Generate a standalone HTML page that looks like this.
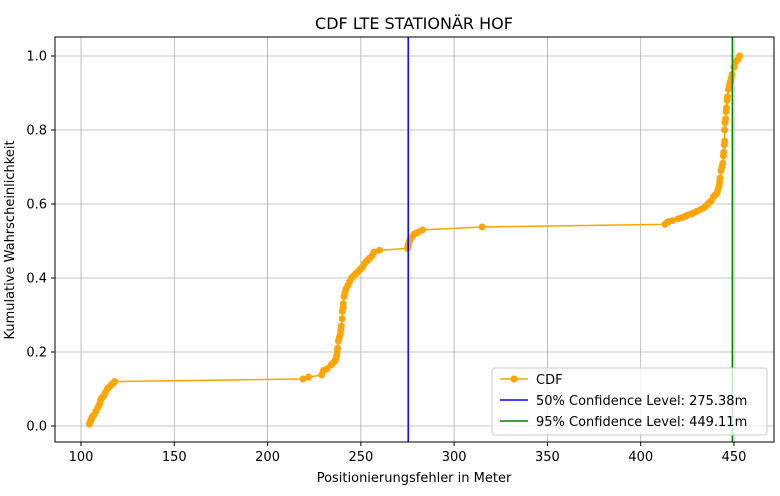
<!DOCTYPE html>
<html><head><meta charset="utf-8"><style>
body{margin:0;background:#fff;}
svg text{font-family:"DejaVu Sans","Liberation Sans",sans-serif;fill:#000;}
</style></head><body>
<svg id="chart" width="780" height="491" xmlns="http://www.w3.org/2000/svg">
<g id="grid"></g>
<g id="marks"></g>
<rect x="55" y="37" width="719" height="405" fill="none" stroke="#000" stroke-width="1"/>
<g id="ticks"></g>
<text x="414" y="29" font-size="16" text-anchor="middle">CDF LTE STATIONÄR HOF</text>
<text x="414" y="482" font-size="13" text-anchor="middle">Positionierungsfehler in Meter</text>
<text transform="translate(14,240) rotate(-90)" font-size="13" text-anchor="middle">Kumulative Wahrscheinlichkeit</text>
<g>
<rect x="492" y="368" width="275" height="67" rx="3" fill="#fff" fill-opacity="0.8" stroke="#ccc"/>
<line x1="500" y1="379" x2="528" y2="379" stroke="orange" stroke-width="1.5"/><circle cx="514" cy="379" r="3.5" fill="orange"/>
<text x="536" y="384" font-size="13">CDF</text>
<line x1="500" y1="400" x2="528" y2="400" stroke="blue" stroke-width="1.5"/>
<text x="536" y="405" font-size="13">50% Confidence Level: 275.38m</text>
<line x1="500" y1="421" x2="528" y2="421" stroke="green" stroke-width="1.5"/>
<text x="536" y="426" font-size="13">95% Confidence Level: 449.11m</text>
</g>
</svg>
<script>
const xs=[104.5,105,105.5,106,107,108,109,110,110.5,111,111.5,112,113,114,115,116,117,118,219,222,229,230,232,234,235,236,236.5,237,237.3,237.5,238,238.5,239,239.3,239.5,240,240,240.5,240.5,241,241.5,242,243,244,245,246,247,248,249,250,251,252,253,254,255,256,257,260,275,275.3,275.5,276,276.5,277,278,279,280,281,283,315,413,414,415,417,420,422,424,425,427,428,430,432,434,435,436,437,438,439,440,441,441.5,442,442.3,442.5,443,443.5,444,444.3,444.5,444.8,445,445,445.2,445.5,445.8,446,446.3,446.5,447,447.5,448,448.5,449,450,451,452,453];
const ps=[0.005,0.012,0.018,0.025,0.03,0.04,0.05,0.06,0.07,0.075,0.078,0.08,0.09,0.1,0.105,0.11,0.115,0.12,0.127,0.132,0.138,0.15,0.155,0.165,0.17,0.175,0.18,0.19,0.2,0.21,0.23,0.24,0.25,0.26,0.27,0.29,0.31,0.32,0.33,0.35,0.36,0.37,0.38,0.39,0.4,0.405,0.41,0.415,0.42,0.425,0.43,0.44,0.445,0.45,0.455,0.46,0.47,0.475,0.48,0.485,0.49,0.5,0.505,0.51,0.515,0.52,0.522,0.525,0.53,0.538,0.545,0.55,0.552,0.555,0.56,0.563,0.567,0.57,0.573,0.575,0.58,0.585,0.59,0.595,0.6,0.605,0.61,0.62,0.625,0.63,0.64,0.65,0.66,0.67,0.69,0.7,0.71,0.73,0.74,0.76,0.77,0.8,0.82,0.83,0.85,0.86,0.88,0.89,0.91,0.92,0.93,0.94,0.95,0.97,0.985,0.99,1.0];
const conf=[275.38,449.11];
const xTicks=[100,150,200,250,300,350,400,450];
const yTicks=[0.0,0.2,0.4,0.6,0.8,1.0];
const X=v=>81+(v-100)*(653/350);
const Y=p=>426-p*370;
const NS="http://www.w3.org/2000/svg";
function mk(t,a,parent){const e=document.createElementNS(NS,t);for(const k in a)e.setAttribute(k,a[k]);parent.appendChild(e);return e;}
const grid=document.getElementById('grid'),ticks=document.getElementById('ticks'),marks=document.getElementById('marks');
xTicks.forEach(v=>{
 const g=mk('line',{x1:X(v),x2:X(v),y1:37,y2:442,stroke:'#b0b0b0','stroke-width':0.8},grid);
 
 
 mk('line',{x1:X(v),x2:X(v),y1:442,y2:446,stroke:'#000'},ticks);
 const t=mk('text',{x:X(v),y:461,'font-size':13,'text-anchor':'middle'},ticks);t.textContent=v;
 
 
});
yTicks.forEach(v=>{
 const g=mk('line',{x1:55,x2:774,y1:Y(v),y2:Y(v),stroke:'#b0b0b0','stroke-width':0.8},grid);
 
 
 mk('line',{x1:51,x2:55,y1:Y(v),y2:Y(v),stroke:'#000'},ticks);
 const t=mk('text',{x:47,y:Y(v)+4.5,'font-size':13,'text-anchor':'end'},ticks);t.textContent=v.toFixed(1);
 
 
});
const pl=mk('polyline',{points:xs.map((x,i)=>X(x)+','+Y(ps[i])).join(' '),fill:'none',stroke:'orange','stroke-width':1.5},marks);


xs.forEach((x,i)=>{
 const c=mk('circle',{cx:X(x),cy:Y(ps[i]),r:3.5,fill:'orange'},marks);
 
 
});
['blue','green'].forEach((col,i)=>{
 const l=mk('line',{x1:X(conf[i]),x2:X(conf[i]),y1:37,y2:442,stroke:col,'stroke-width':1.5},marks);
 
 
});
</script>
</body></html>
